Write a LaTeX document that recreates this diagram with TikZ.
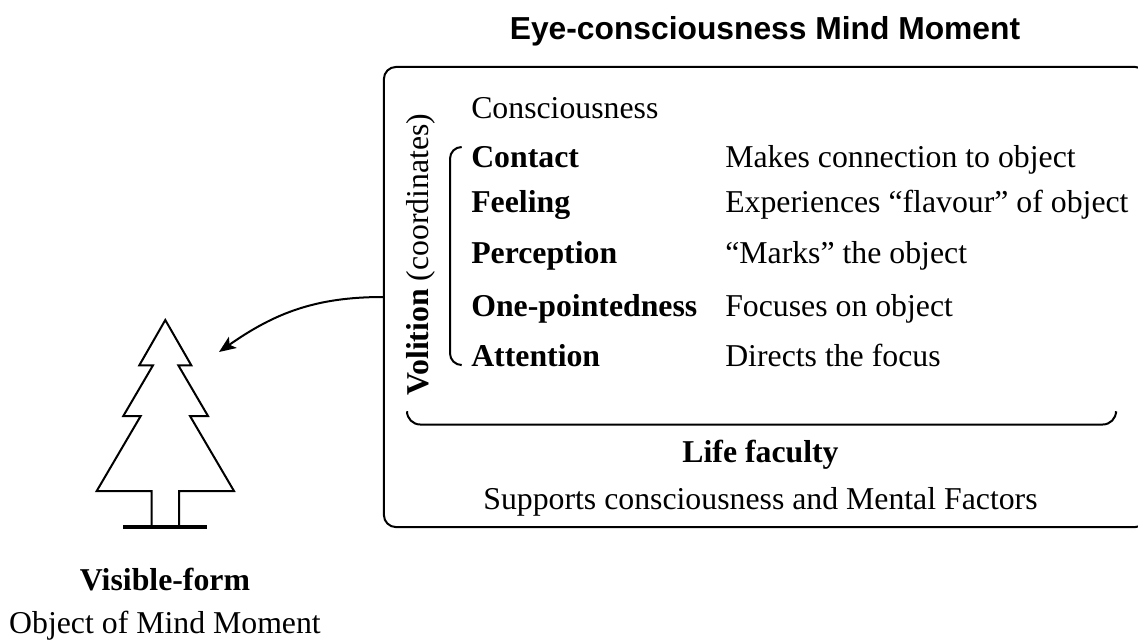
\documentclass[tikz,border=0pt]{standalone}
\usepackage{fontspec}
\setmainfont{Liberation Serif}
\newfontfamily\titlefont{Liberation Sans}
\usetikzlibrary{arrows.meta}

\tikzset{
    line/.style = {line width = 0.05cm},
    label/.style = {anchor = base west, inner sep = 0pt, font = \fontsize{22.6}{26}\selectfont},
    centered/.style = {label, anchor = base}
}

\begin{document}
\begin{tikzpicture}[x=0.025cm,y=-0.025cm]
                \useasboundingbox (0,0) rectangle (1138,641);
                \clip (0,0) rectangle (1138,641);
                \node[inner sep = 0pt, font = \titlefont\bfseries\fontsize{22.6}{26}\selectfont] (title) at (765,31) {Eye-consciousness Mind Moment};
                \node[line, draw, rounded corners = 0.3cm, minimum width = 19.075cm, minimum height = 11.5cm] (box) at (765.5,297) {};
                \node[label] (consciousness) at (471,118) {Consciousness};
                \foreach \factor/\role/\y in {Contact/Makes connection to object/167, Feeling/Experiences ``flavour'' of object/212, Perception/``Marks'' the object/263, One-pointedness/Focuses on object/316, Attention/Directs the focus/366}
                    {\node[label] (\factor) at (471,\y) {\textbf{\factor}};
                    \node[label] (role-\factor) at (725,\y) {\role};}
                \node[label, rotate = 90] (volition) at (428,396) {\textbf{Volition} (coordinates)};
                \draw[line, rounded corners = 0.29cm] (461,147) -- (450,147) -- (450,365) -- (461,365);
                \draw[line, rounded corners = 0.33cm] (407,413) -- (407,424.5) -- (1116,424.5) -- (1116,413);
                \node[centered] (life) at (760.5,462) {\textbf{Life faculty}};
                \node[centered] (supports) at (760.5,509) {Supports consciousness and Mental Factors};
                % tree
                \draw[line] (151.7,526.5) -- (151.7,491) -- (96.7,491) -- (140.7,416) -- (123.3,416) -- (153,365.3) -- (139.3,365.3) -- (165.3,320) -- (191.3,365.3) -- (178.3,365.3) -- (208,416) -- (190,416) -- (234,491) -- (179,491) -- (179,526.5);
                \draw[line width = 0.1cm] (123,526.5) -- (207,526.5);
                \coordinate (tree) at (219,352);
                \draw[line, -{Stealth[length = 0.42cm, width = 0.34cm, inset = 0.1cm]}] (box.west) to[out = 180, in = 35] (tree);
                \node[centered] (form) at (165,590) {\textbf{Visible-form}};
                \node[centered] (object) at (165,633) {Object of Mind Moment};
            \end{tikzpicture}
\end{document}
